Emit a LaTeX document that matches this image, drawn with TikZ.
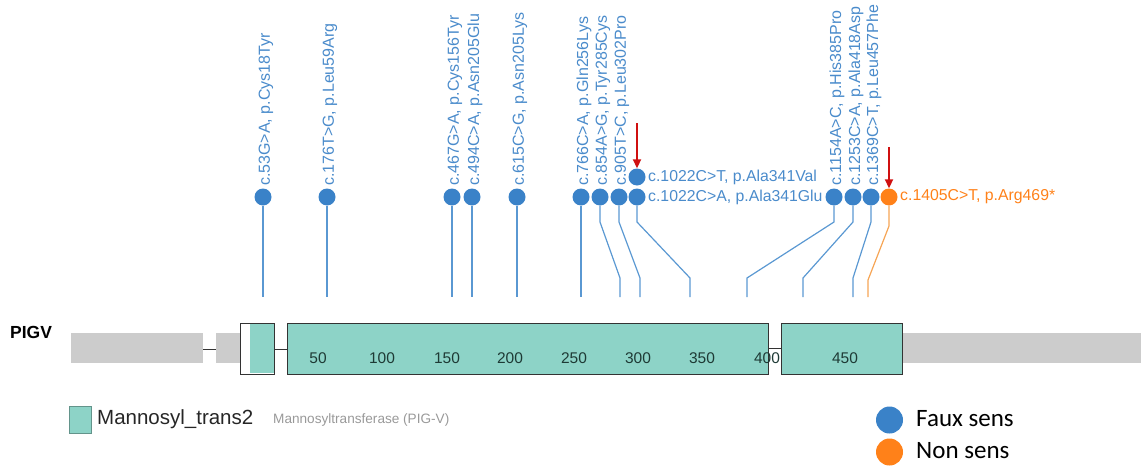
\documentclass[tikz,border=0pt]{standalone}
\usepackage{fontspec}
\setmainfont{Liberation Sans}
\newfontfamily\calib{Carlito}
\usetikzlibrary{arrows.meta}
\definecolor{dom}{HTML}{8DD3C7}
\definecolor{domline}{HTML}{333333}
\definecolor{utr}{HTML}{CCCCCC}
\definecolor{headblue}{HTML}{3A82C8}
\definecolor{stemblue}{HTML}{5A98D2}
\definecolor{labblue}{HTML}{4A8BCB}
\definecolor{orng}{HTML}{FF8119}
\definecolor{stemorng}{HTML}{F6A555}
\definecolor{arrred}{HTML}{D01010}
\definecolor{tick}{HTML}{1E3A35}
\begin{document}
\begin{tikzpicture}[x=1pt,y=-1pt,
  head/.style={circle,fill=headblue,minimum size=17pt,inner sep=0pt},
  nshead/.style={circle,fill=orng,minimum size=17pt,inner sep=0pt},
  stem/.style={draw=stemblue,line width=1.2pt},
  nsstem/.style={draw=stemorng,line width=1.2pt},
  vlab/.style={rotate=90,anchor=west,inner sep=0pt,text=labblue,font=\fontsize{16}{17}\selectfont},
  hlab/.style={anchor=west,inner sep=0pt,text=labblue,font=\fontsize{15.8}{17}\selectfont},
  dombox/.style={draw=domline,fill=dom,line width=1pt},
  tk/.style={text=tick,font=\fontsize{15.5}{16}\selectfont,inner sep=0pt},
  redarr/.style={draw=arrred,line width=1.9pt,-{Triangle[length=9pt,width=8pt]}}
]
\useasboundingbox (0,0) rectangle (1144,466);

% gene track
\node[font=\bfseries\fontsize{17.5}{18}\selectfont,anchor=west,inner sep=0pt] (pigv) at (10,332) {PIGV};
\fill[utr] (71,333) rectangle (203,363);
\draw[domline,line width=1pt] (203,349) -- (216,349);
\fill[utr] (216,333) rectangle (240,363);
\fill[utr] (902,333) rectangle (1141,363);
\draw[domline,line width=1pt] (274,349) -- (287,349);
\draw[domline,line width=1pt] (768,348) -- (781,348);
\node[draw=domline,fill=white,line width=1pt,minimum width=34pt,minimum height=51pt,inner sep=0pt] (d0) at (257,348.5) {};
\fill[dom] (249.5,324) rectangle (273.5,373);
\draw[domline,line width=1pt] (240,323) rectangle (274,374);
\node[dombox,minimum width=481pt,minimum height=51pt,inner sep=0pt] (d1) at (527.5,348.5) {};
\node[dombox,minimum width=121pt,minimum height=51pt,inner sep=0pt] (d2) at (841.5,348.5) {};

% ticks
\foreach \x/\t in {318/50,382/100,447/150,510/200,574/250,638/300,702/350,767/400,845/450}
  \node[tk] (t\t) at (\x,358) {\t};

% heads
\node[head] (h1) at (263,197) {};
\node[head] (h2) at (327,197) {};
\node[head] (h3) at (452,197) {};
\node[head] (h4) at (472,197) {};
\node[head] (h5) at (517,197) {};
\node[head] (h6) at (581,197) {};
\node[head] (h7) at (600,197) {};
\node[head] (h8) at (619,197) {};
\node[head] (h9) at (637,197) {};
\node[head] (h9b) at (637,177) {};
\node[head] (h10) at (834,197) {};
\node[head] (h11) at (853,197) {};
\node[head] (h12) at (871,197) {};
\node[nshead] (h13) at (889,197) {};

% stem ends
\foreach \n/\x in {1/263,2/327,3/452,4/472,5/517,6/581,7/620,8/640,9/690,10/747,11/803,12/853,13/868}
  \coordinate (e\n) at (\x,297);

\draw[stem] (h1) -- (e1);
\draw[stem] (h2) -- (e2);
\draw[stem] (h3) -- (e3);
\draw[stem] (h4) -- (e4);
\draw[stem] (h5) -- (e5);
\draw[stem] (h6) -- (e6);
\draw[stem] (h7.south) -- (600,222) -- (620,278) -- (e7);
\draw[stem] (h8.south) -- (619,222) -- (640,278) -- (e8);
\draw[stem] (h9.south) -- (637,222) -- (690,278) -- (e9);
\draw[stem] (h10.south) -- (834,222) -- (747,278) -- (e10);
\draw[stem] (h11.south) -- (853,222) -- (803,278) -- (e11);
\draw[stem] (h12.south) -- (871,222) -- (853,278) -- (e12);
\draw[nsstem] (h13.south) -- (889,226) -- (868,280) -- (e13);

% labels
\node[vlab] (l1) at (266,186) {c.53G>A, p.Cys18Tyr};
\node[vlab] (l2) at (330,186) {c.176T>G, p.Leu59Arg};
\node[vlab] (l3) at (455,186) {c.467G>A, p.Cys156Tyr};
\node[vlab] (l4) at (475,186) {c.494C>A, p.Asn205Glu};
\node[vlab] (l5) at (520,186) {c.615C>G, p.Asn205Lys};
\node[vlab] (l6) at (584,186) {c.766C>A, p.Gln256Lys};
\node[vlab] (l7) at (603,186) {c.854A>G, p.Tyr285Cys};
\node[vlab] (l8) at (622,186) {c.905T>C, p.Leu302Pro};
\node[vlab] (l10) at (837,186) {c.1154A>C, p.His385Pro};
\node[vlab] (l11) at (856,186) {c.1253C>A, p.Ala418Asp};
\node[vlab] (l12) at (874,186) {c.1369C>T, p.Leu457Phe};
\node[hlab] (l9b) at (648,177) {c.1022C>T, p.Ala341Val};
\node[hlab] (l9) at (648,197) {c.1022C>A, p.Ala341Glu};
\node[hlab,text=orng] (l13) at (900,197) {c.1405C>T, p.Arg469*};

% red arrows
\coordinate (a1) at (637,123);
\coordinate (a2) at (889,147);
\draw[redarr] (a1) -- (h9b.north);
\draw[redarr] (a2) -- (h13.north);

% legend left
\node[draw=dom!70!black,fill=dom,line width=0.6pt,minimum width=22pt,minimum height=27pt,inner sep=0pt] (lg1) at (80,419.5) {};
\node[anchor=west,inner sep=0pt,text=black!85,font=\fontsize{20.5}{22}\selectfont] (lg1t) at (97,419) {Mannosyl\_trans2};
\node[anchor=west,inner sep=0pt,text=black!40,font=\fontsize{13.6}{15}\selectfont] (lg1d) at (273,420) {Mannosyltransferase (PIG-V)};

% legend right
\node[circle,fill=headblue,minimum size=27pt,inner sep=0pt] (lg2) at (889.5,420) {};
\node[circle,fill=orng,minimum size=27pt,inner sep=0pt] (lg3) at (889.5,452) {};
\node[anchor=west,inner sep=0pt,font=\calib\fontsize{25}{27}\selectfont] (lg2t) at (916,419) {Faux sens};
\node[anchor=west,inner sep=0pt,font=\calib\fontsize{25}{27}\selectfont] (lg3t) at (916,451) {Non sens};
\end{tikzpicture}
\end{document}
